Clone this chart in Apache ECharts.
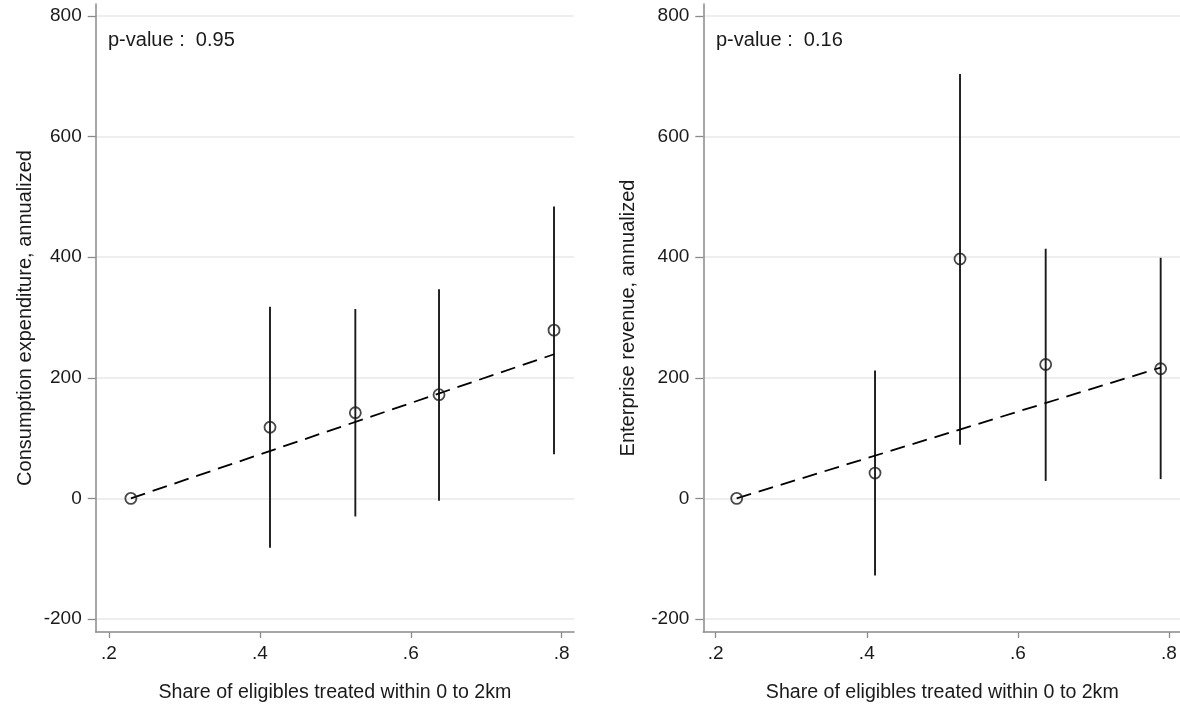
<!DOCTYPE html>
<html>
<head>
<meta charset="utf-8">
<script src="https://cdn.jsdelivr.net/npm/echarts@6/dist/echarts.min.js"></script>
<style>html,body{margin:0;padding:0;background:#fff;}#c{width:1180px;height:706px;}</style>
</head>
<body>
<div id="c"></div>
<script>
// ---- data ----
const xTicks = [0.2, 0.4, 0.6, 0.8];
const yTicks = [-200, 0, 200, 400, 600, 800];

const leftX   = [0.229, 0.4134, 0.5265, 0.6374, 0.7898];
const leftY   = [0, 118, 142, 172, 279];
const leftLo  = [null, -82, -30, -4, 73];
const leftHi  = [null, 318, 314, 347, 484];
const leftFitX = [0.229, 0.7898];
const leftFitY = [0, 239];
const leftP = 'p-value :  0.95';
const leftTitle = 'Consumption expenditure, annualized';

const rightX   = [0.2278, 0.4109, 0.5234, 0.6368, 0.789];
const rightY   = [0, 42, 397, 222, 215];
const rightLo  = [null, -128, 89, 29, 32];
const rightHi  = [null, 212, 704, 414, 399];
const rightFitX = [0.2278, 0.789];
const rightFitY = [0, 217];
const rightP = 'p-value :  0.16';
const rightTitle = 'Enterprise revenue, annualized';

const xTitle = 'Share of eligibles treated within 0 to 2km';

// ---- build ----
const FONT = 'Liberation Sans';
const zip = (a, b) => a.map((v, i) => [v, b[i]]);
const ciData = (xs, lo, hi) => xs.map((v, i) => [v, lo[i], hi[i]]).filter(d => d[1] !== null);

function xAxisCfg(idx, min, max) {
  return {
    type: 'value', gridIndex: idx, min: min, max: max,
    name: xTitle, nameLocation: 'middle', nameGap: 51,
    nameTextStyle: {fontFamily: FONT, fontSize: 19.6, color: '#1a1a1a'},
    axisLine: {show: true, onZero: false, lineStyle: {color: '#8a8a8a', width: 1.5}},
    axisTick: {show: true, length: 6, lineStyle: {color: '#8a8a8a', width: 1.3}, customValues: xTicks},
    axisLabel: {customValues: xTicks, margin: 12, fontFamily: FONT, fontSize: 19, color: '#1a1a1a',
      formatter: v => String(Math.round(v * 10) / 10).replace(/^0/, '')},
    splitLine: {show: false}
  };
}
function yAxisCfg(idx, name, gap) {
  return {
    type: 'value', gridIndex: idx, min: -221.6, max: 819.9,
    name: name, nameLocation: 'middle', nameGap: gap,
    nameTextStyle: {fontFamily: FONT, fontSize: 20, color: '#1a1a1a'},
    axisLine: {show: true, onZero: false, lineStyle: {color: '#8a8a8a', width: 1.5}},
    axisTick: {show: true, length: 8, lineStyle: {color: '#8a8a8a', width: 1.3}, customValues: yTicks},
    axisLabel: {customValues: yTicks, margin: 14, fontFamily: FONT, fontSize: 19, color: '#1a1a1a'},
    splitLine: {show: true, customValues: yTicks, lineStyle: {color: '#e9e9e9', width: 1.5}}
  };
}
function ciSeries(idx, data) {
  return {
    type: 'custom', xAxisIndex: idx, yAxisIndex: idx, data: data, z: 2,
    renderItem: function (params, api) {
      const p1 = api.coord([api.value(0), api.value(1)]);
      const p2 = api.coord([api.value(0), api.value(2)]);
      return {type: 'line', shape: {x1: p1[0], y1: p1[1], x2: p2[0], y2: p2[1]},
        style: {stroke: '#1a1a1a', lineWidth: 1.9}};
    }
  };
}
function fitSeries(idx, data) {
  return {type: 'line', xAxisIndex: idx, yAxisIndex: idx, data: data, symbol: 'none', z: 3,
    lineStyle: {color: '#000', width: 1.8, type: [15, 8]}, animation: false};
}
function ptSeries(idx, data) {
  return {type: 'scatter', xAxisIndex: idx, yAxisIndex: idx, data: data, symbol: 'circle', symbolSize: 11, z: 4,
    itemStyle: {color: 'rgba(0,0,0,0)', borderColor: '#1a1a1a', borderWidth: 1.8}};
}

const chart = echarts.init(document.getElementById('c'), null, {renderer: 'canvas'});
chart.setOption({
  animation: false,
  backgroundColor: '#fff',
  grid: [
    {left: 95.7, top: 4, width: 478.3, height: 628, containLabel: false, outerBoundsMode: 'none'},
    {left: 703.3, top: 4, width: 478, height: 628, containLabel: false, outerBoundsMode: 'none'}
  ],
  xAxis: [xAxisCfg(0, 0.1824, 0.8163), xAxisCfg(1, 0.1836, 0.8163)],
  yAxis: [yAxisCfg(0, leftTitle, 60), yAxisCfg(1, rightTitle, 65)],
  graphic: [
    {type: 'text', left: 108, top: 30, style: {text: leftP, fontFamily: FONT, fontSize: 20, fill: '#1a1a1a'}},
    {type: 'text', left: 716, top: 30, style: {text: rightP, fontFamily: FONT, fontSize: 20, fill: '#1a1a1a'}}
  ],
  series: [
    ciSeries(0, ciData(leftX, leftLo, leftHi)),
    fitSeries(0, zip(leftFitX, leftFitY)),
    ptSeries(0, zip(leftX, leftY)),
    ciSeries(1, ciData(rightX, rightLo, rightHi)),
    fitSeries(1, zip(rightFitX, rightFitY)),
    ptSeries(1, zip(rightX, rightY))
  ]
});
</script>
</body>
</html>
